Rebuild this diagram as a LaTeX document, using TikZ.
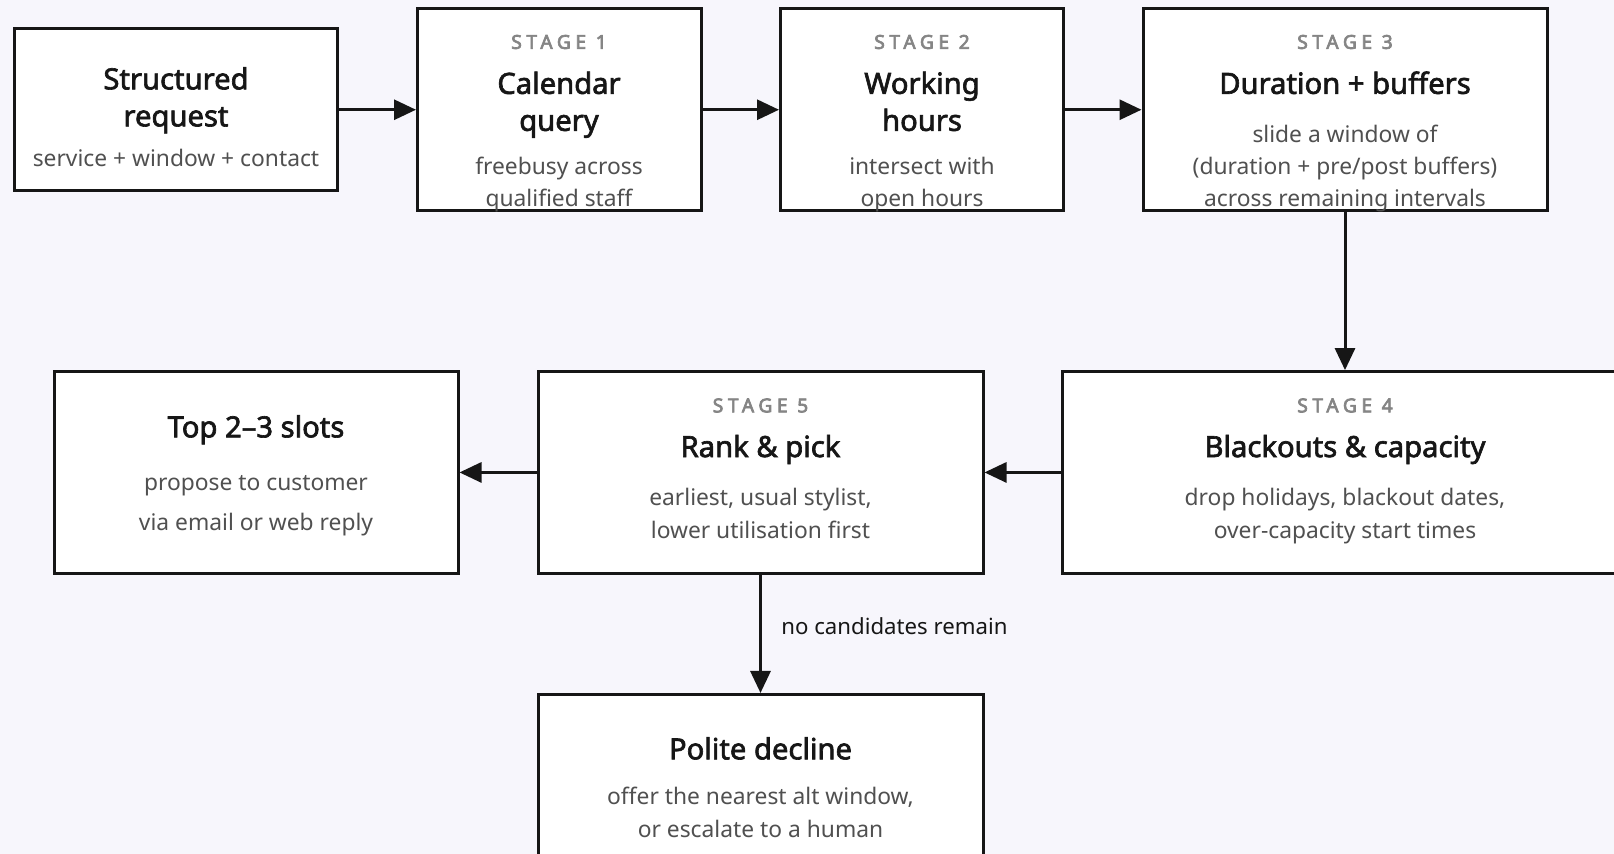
\documentclass[tikz,border=0pt]{standalone}
\usepackage{fontspec}
\setmainfont{Noto Sans}
\newfontfamily\ttlfont[FakeBold=2.2]{Noto Sans}
\newfontfamily\stagefont[LetterSpace=24,FakeBold=3.5]{Noto Sans}
\usetikzlibrary{arrows.meta}
\definecolor{bg}{HTML}{F7F6FC}
\definecolor{ink}{HTML}{161616}
\definecolor{subc}{HTML}{505050}
\definecolor{stagec}{HTML}{858585}
\tikzset{
 box/.style={draw=ink, line width=1.5pt, fill=white, inner sep=0pt},
 ttl/.style={font=\ttlfont\fontsize{14.6}{16}\selectfont, text=ink, anchor=mid, inner sep=0pt},
 sub/.style={font=\fontsize{11.4}{13}\selectfont, text=subc, anchor=mid, inner sep=0pt},
 stg/.style={font=\stagefont\fontsize{9.6}{10}\selectfont, text=stagec, anchor=mid, inner sep=0pt},
 conn/.style={draw=ink, line width=1.5pt, -{Triangle[length=11pt,width=10pt]}},
 elab/.style={font=\fontsize{11.1}{13}\selectfont, text=ink, anchor=west, inner sep=0pt},
}
\begin{document}
\begin{tikzpicture}[x=0.5pt,y=-0.5pt]
\fill[bg] (0,0) rectangle (1614,854);
\useasboundingbox (0,0) rectangle (1614,854);
\clip (0,0) rectangle (1614,854);
% boxes
\node[box, minimum width=161.5pt, minimum height=80.75pt] (req) at (176,109.75) {};
\node[box, minimum width=141.75pt, minimum height=101.25pt] (cal) at (559.25,109.75) {};
\node[box, minimum width=141.5pt, minimum height=101.25pt] (work) at (922,109.75) {};
\node[box, minimum width=202pt, minimum height=101.25pt] (dur) at (1345,109.75) {};
\node[box, minimum width=201.75pt, minimum height=100.85pt] (top) at (256.25,472.45) {};
\node[box, minimum width=222.5pt, minimum height=100.85pt] (rank) at (760.5,472.45) {};
\node[box, minimum width=283pt, minimum height=100.85pt] (stg4) at (1345,472.45) {};
\node[box, minimum width=222.5pt, minimum height=100.25pt] (dec) at (760.5,794.75) {};
% texts: request
\node[ttl] (reqA) at (176,84) {Structured};
\node[ttl] (reqB) at (176,121) {request};
\node[sub] (reqC) at (176,161.5) {service + window + contact};
% calendar
\node[stg] (calS) at (559,43.5) {STAGE 1};
\node[ttl] (calA) at (559,88.5) {Calendar};
\node[ttl] (calB) at (559,125.5) {query};
\node[sub] (calC) at (559,169.5) {freebusy across};
\node[sub] (calD) at (559,201.5) {qualified staff};
% working
\node[stg] (workS) at (922,43.5) {STAGE 2};
\node[ttl] (workA) at (922,88.5) {Working};
\node[ttl] (workB) at (922,125.5) {hours};
\node[sub] (workC) at (922,169.5) {intersect with};
\node[sub] (workD) at (922,201.5) {open hours};
% duration
\node[stg] (durS) at (1345,43.5) {STAGE 3};
\node[ttl] (durA) at (1345,88.5) {Duration + buffers};
\node[sub] (durB) at (1345,137) {slide a window of};
\node[sub] (durC) at (1345,169.5) {(duration + pre/post buffers)};
\node[sub] (durD) at (1345,201.5) {across remaining intervals};
% top
\node[ttl] (topA) at (256,432) {Top 2–3 slots};
\node[sub] (topB) at (256,484.7) {propose to customer};
\node[sub] (topC) at (256,525) {via email or web reply};
% rank
\node[stg] (rankS) at (760.5,407) {STAGE 5};
\node[ttl] (rankA) at (760.5,451.7) {Rank \& pick};
\node[sub] (rankB) at (760.5,500) {earliest, usual stylist,};
\node[sub] (rankC) at (760.5,533) {lower utilisation first};
% stage 4
\node[stg] (s4S) at (1345,407) {STAGE 4};
\node[ttl] (s4A) at (1345,451.7) {Blackouts \& capacity};
\node[sub] (s4B) at (1345,500) {drop holidays, blackout dates,};
\node[sub] (s4C) at (1345,533) {over-capacity start times};
% decline
\node[ttl] (decA) at (760.5,754) {Polite decline};
\node[sub] (decB) at (760.5,799) {offer the nearest alt window,};
\node[sub] (decC) at (760.5,832) {or escalate to a human};
% connectors
\draw[conn] (req) -- (cal);
\draw[conn] (cal) -- (work);
\draw[conn] (work) -- (dur);
\draw[conn] (dur) -- (stg4);
\draw[conn] (stg4.west) -- (rank.east);
\draw[conn] (rank) -- (top);
\draw[conn] (rank) -- (dec);
\node[elab] (lbl) at (781,626) {no candidates remain};
\end{tikzpicture}
\end{document}
